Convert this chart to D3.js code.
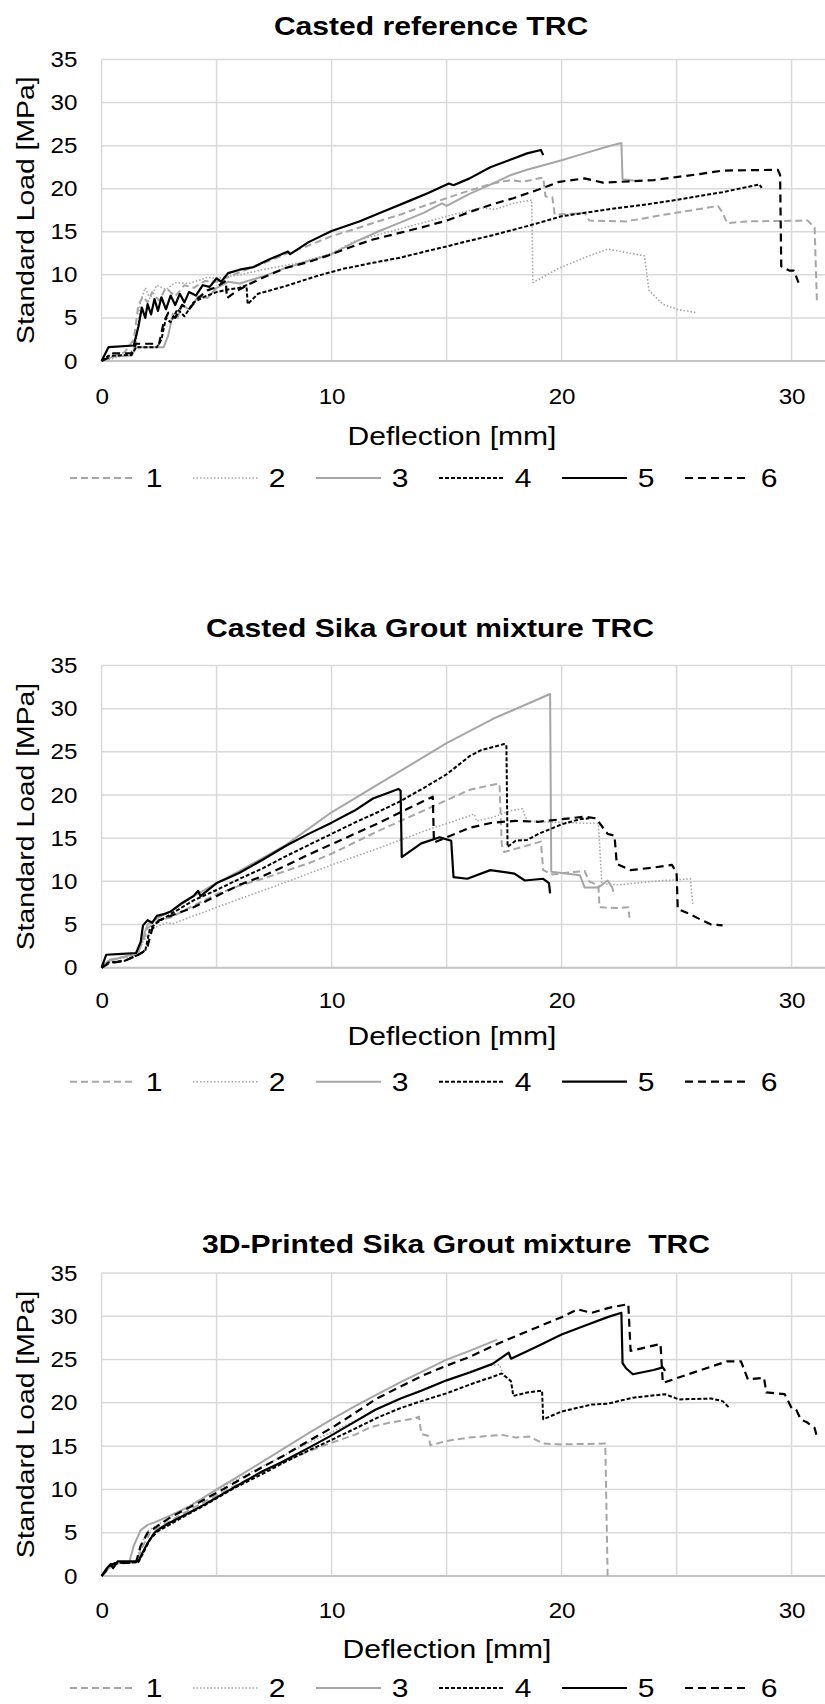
<!DOCTYPE html>
<html>
<head>
<meta charset="utf-8">
<script src="https://cdn.jsdelivr.net/npm/d3@7"></script>
<style>
  body { margin: 0; background: #fff; }
  text { font-family: "Liberation Sans", Arial, sans-serif; fill: #000; white-space: pre; }
</style>
</head>
<body>
<script>
// chart titles, legend names and tick labels
var titles = ["Casted reference TRC", "Casted Sika Grout mixture TRC", "3D-Printed Sika Grout mixture  TRC"];
var seriesNames = ["1", "2", "3", "4", "5", "6"];
var xTickLabels = [0, 10, 20, 30];
var yTickLabels = [0, 5, 10, 15, 20, 25, 30, 35];
var gridX = [0, 5, 10, 15, 20, 25, 30, 35];
var gridY = [5, 10, 15, 20, 25, 30, 35];

// Casted reference TRC : [deflection mm, load MPa]
var ref1 = [[0,0],[0.5,0.5],[1.0,1.0],[1.4,2.5],[1.6,6.5],[1.8,7.5],[2.0,6.8],[2.2,8],[2.5,7],[2.8,8.5],[3.2,7.5],[3.6,8.8],[4.0,8.5],[4.5,9.3],[5.0,9.2],[6.0,10.3],[7.0,11.3],[8.0,12.4],[9.0,13.4],[10.0,14.5],[11.0,15.3],[12.0,16.2],[13.0,17.0],[14.0,18.0],[15.0,18.9],[16.0,19.8],[17.0,20.6],[17.8,21.0],[18.3,20.8],[19.2,21.3],[19.3,19.1],[19.6,19.0],[19.7,17.0],[20.5,17.1],[21.0,17.2],[21.2,16.3],[22.8,16.2],[24.5,17.0],[26.8,18.0],[27.0,17.2],[27.2,16.0],[28.0,16.2],[30.7,16.3],[31.0,15.5],[31.1,7.0]];
var ref2 = [[0,0],[0.5,0.3],[1.2,0.8],[1.5,2],[1.7,7],[1.9,8.5],[2.1,7.2],[2.4,8.8],[2.8,8.3],[3.2,9.1],[3.8,9.0],[4.6,9.7],[5.0,9.6],[6.0,10.0],[7.0,10.6],[8.6,11.4],[10,12.5],[11,13.9],[12.5,15.0],[13.9,16.0],[15,16.8],[16.5,17.8],[17.1,17.6],[17.9,18.3],[18.7,18.7],[18.75,9.1],[19.9,10.8],[21,12.0],[22,13.0],[23.6,12.2],[23.8,8.2],[24.4,6.6],[25,6.0],[25.9,5.6]];
var ref3 = [[0,0],[0.3,0.3],[0.6,0.6],[1.3,0.6],[1.5,1.6],[2.7,1.6],[2.9,3],[3.1,5.5],[3.3,5],[3.5,6.5],[3.8,6],[4.2,7.5],[4.6,7.3],[5.0,8.5],[5.5,9.2],[6.0,9.0],[7.0,9.8],[8,10.8],[9,11.6],[10,12.4],[11,13.8],[12,15],[13,16.1],[14,17.2],[14.8,18.3],[15.0,18.0],[16,19.4],[17,20.6],[17.8,21.6],[18.5,22.2],[20,23.3],[21,24.1],[22,24.9],[22.6,25.3],[22.65,21.1],[23.3,20.9]];
var ref4 = [[0,0],[0.3,0.6],[1.3,0.7],[1.5,1.6],[2.4,1.6],[2.6,2.5],[2.8,5],[3.0,4.5],[3.3,6],[3.6,5.2],[4.0,6.8],[4.5,7.5],[5.0,8.0],[5.5,8.3],[6.0,8.5],[6.3,8.8],[6.35,6.6],[6.8,7.8],[8,8.7],[9.4,9.9],[10.5,10.7],[11.8,11.4],[13,12],[13.9,12.6],[15,13.3],[15.9,13.9],[17,14.6],[18.7,15.8],[20,16.8],[22,17.6],[23.5,18.1],[25,18.7],[27,19.6],[28.6,20.5],[28.7,20.1]];
var ref5 = [[0,0],[0.3,1.6],[1.4,1.8],[1.6,4],[1.75,6.2],[1.9,5.0],[2.0,6.6],[2.15,5.4],[2.3,7.2],[2.45,5.8],[2.6,7.4],[2.8,6.0],[3.0,7.6],[3.2,6.5],[3.4,7.8],[3.6,6.8],[3.8,8.0],[4.1,7.6],[4.4,8.8],[4.7,8.6],[5.0,9.6],[5.2,9.2],[5.5,10.2],[6.0,10.6],[6.6,10.9],[7.3,11.8],[8.1,12.7],[8.2,12.4],[9,13.8],[10,15.1],[11.2,16.2],[12.2,17.3],[13.3,18.5],[14.2,19.5],[15.1,20.6],[15.3,20.4],[16,21.2],[16.9,22.5],[17.8,23.4],[18.5,24.1],[19.1,24.5],[19.2,23.9]];
var ref6 = [[0,0],[0.3,0.4],[0.5,0.9],[1.3,0.9],[1.5,2.0],[2.5,2.0],[2.7,4.5],[2.9,5.6],[3.2,5.0],[3.5,6.5],[3.8,6.0],[4.2,7.3],[4.6,8.2],[5.0,8.6],[5.4,9.3],[5.45,7.3],[5.8,8.0],[6.4,8.9],[7.2,9.9],[8.0,10.8],[9.0,11.5],[9.8,12.2],[11,13.4],[11.8,14.1],[13,14.9],[13.9,15.5],[15,16.3],[15.9,17.2],[17,18.2],[17.9,18.9],[19,19.9],[19.9,20.8],[21,21.2],[21.8,20.7],[24,21.0],[26,21.7],[27,22.1],[29.4,22.2],[29.5,21.6],[29.55,11.0],[29.9,10.5],[30.1,10.5],[30.3,9.1]];

// Casted Sika Grout mixture TRC
var sika1 = [[0,0],[0.3,0.9],[1.5,1.5],[1.8,3],[2.0,4.6],[2.5,5.5],[3,5.8],[4,7.2],[5,8.5],[6,9.5],[7,10.3],[8,11.2],[9,12.1],[10,13.2],[11,14.5],[12,15.8],[13,17.0],[14,18.2],[15,19.4],[16,20.6],[17,21.2],[17.3,21.3],[17.4,14.2],[17.5,13.4],[19.1,14.6],[19.2,11.3],[19.6,10.8],[20.2,11.0],[21.0,11.2],[21.2,10.0],[21.6,9.5],[21.65,7.0],[22.4,6.9],[22.9,7.0],[22.95,5.8]];
var sika2 = [[0,0],[0.3,0.8],[1.5,1.4],[1.8,3],[2.2,4.5],[2.8,5.2],[3.1,5.1],[5,7.0],[8,9.9],[10,11.9],[12,13.8],[14,15.8],[16,17.6],[16.2,17.8],[16.3,17.0],[17,17.4],[17.8,18.2],[18.3,18.4],[18.5,17.0],[19,16.9],[21.6,16.7],[21.75,9.7],[22.5,9.6],[24,10.0],[25.6,10.3],[25.7,7.4]];
var sika3 = [[0,0],[0.3,0.8],[0.6,1.0],[1.6,1.7],[1.8,3.5],[2.0,5.0],[2.3,5.5],[2.6,6],[3,6.5],[4,8.3],[5,9.8],[6,11.2],[7,12.7],[8,14.2],[10,18.0],[12,21.2],[15,26.0],[17,28.8],[19.5,31.7],[19.55,11.1],[20.8,10.7],[21.0,9.3],[21.6,9.3],[22.0,10.1],[22.2,9.3],[22.25,8.8]];
var sika4 = [[0,0],[0.3,0.6],[1.0,0.8],[1.6,1.5],[1.9,2.0],[2.1,4.5],[2.4,5.2],[3,6.2],[4,7.8],[5,9.0],[6,10.3],[7,11.5],[8,12.9],[9,14.2],[10,15.5],[11,16.8],[12,18.0],[13,19.3],[14,20.8],[15,22.4],[16,24.5],[16.5,25.2],[17.5,25.9],[17.6,25.8],[17.65,14.0],[18,14.7],[18.5,14.8],[19,15.5],[20,16.6],[20.8,17.2],[21.2,17.3]];
var sika5 = [[0,0],[0.2,1.5],[0.9,1.6],[1.5,1.7],[1.7,3],[1.8,4.9],[2.0,5.5],[2.2,5.2],[2.4,6.0],[2.7,6.2],[3.0,6.5],[3.5,7.5],[4.0,8.3],[4.2,8.9],[4.3,8.3],[5,9.8],[5.5,10.4],[6,11],[7,12.5],[8,14.1],[9,15.5],[10,16.8],[11,18.2],[11.8,19.6],[12.5,20.3],[12.9,20.7],[13.0,20.5],[13.05,12.8],[13.9,14.4],[14.7,15.1],[15.2,14.7],[15.3,10.5],[15.9,10.3],[16.9,11.3],[17.95,10.9],[18.4,10.1],[19.2,10.3],[19.45,9.8],[19.5,8.6]];
var sika6 = [[0,0],[0.3,0.5],[1.0,0.8],[1.6,1.5],[1.8,1.8],[2.0,2.5],[2.2,4.5],[2.5,5.5],[3,6.0],[4,7.0],[5,8.3],[6,9.6],[7,10.6],[8,11.8],[9,13.1],[10,14.3],[11,15.5],[12,16.7],[13,18.0],[14,19.3],[14.4,19.8],[14.45,14.5],[15,15.1],[16,16.2],[17,16.8],[18,17.0],[19,16.9],[20,17.2],[21,17.5],[21.5,17.3],[22,15.5],[22.3,15.3],[22.4,12.0],[23,11.3],[24,11.6],[24.8,11.9],[25.0,11.0],[25.05,6.8],[25.5,6.3],[26.1,5.5],[26.5,5.0],[27,4.9]];

// 3D-Printed Sika Grout mixture TRC
var print1 = [[0,0],[0.2,0.6],[0.5,1.3],[0.8,1.5],[1.5,1.6],[1.8,3.5],[2.1,5.0],[2.5,5.6],[3,6.4],[4,7.9],[5,9.3],[6,10.7],[7,12.0],[8,13.3],[9,14.4],[10,15.4],[11,16.3],[11.7,17.2],[12.5,17.7],[13.6,18.2],[13.8,18.4],[13.9,16.4],[14.2,16.2],[14.3,15.1],[15,15.6],[16,16.0],[17.4,16.3],[18.0,16.0],[18.6,16.1],[19.2,15.3],[20,15.2],[21.9,15.3],[22.0,0]];
var print2 = [[0,0],[0.2,0.7],[0.5,1.4],[1.5,1.6],[1.7,3.5],[2.0,5.2],[2.5,6.0],[3,6.8],[4,8.4],[5,9.9],[6,11.3],[7,12.7],[8,14.0],[9,15.4],[10,16.6],[11,17.9],[12,19.3],[13,20.5],[14,21.6],[15,22.6],[16,23.6],[16.8,24.3],[17.3,24.4],[17.5,23.0]];
var print3 = [[0,0],[0.2,0.6],[0.5,1.4],[1.2,1.6],[1.4,3.5],[1.7,5.3],[2.0,5.9],[2.3,6.2],[3,7.0],[3.8,8.0],[5,10.0],[6,11.6],[7,13.2],[8,14.85],[9,16.5],[10,18.1],[11,19.6],[12,21.0],[13,22.4],[14,23.7],[15,25.0],[16,26.0],[17.2,27.3]];
var print4 = [[0,0],[0.2,0.7],[0.4,1.3],[0.6,1.5],[1.6,1.6],[1.8,2.6],[2.1,4.2],[2.4,5.1],[3,6.0],[3.8,7.2],[4.5,8.2],[5.8,10.2],[7,11.8],[8,13.2],[9,14.5],[9.9,15.6],[11,17.0],[12,18.3],[13,19.4],[13.9,20.2],[15,21.1],[16.2,22.3],[17,23.0],[17.4,23.4],[17.8,22.5],[17.9,20.8],[18.5,21.2],[19.15,21.4],[19.2,18.1],[20,19.0],[21.3,19.8],[22,19.9],[23.1,20.6],[24.5,21.0],[25.1,20.4],[26.5,20.5],[27,20.2],[27.3,19.4]];
var print5 = [[0,0],[0.2,0.8],[0.4,1.4],[0.5,0.9],[0.7,1.7],[1.6,1.7],[1.8,2.8],[2.0,3.8],[2.3,5.0],[2.6,5.6],[3,6.2],[3.8,7.3],[4.5,8.3],[5.8,10.3],[7,12.1],[7.8,13.1],[9,14.8],[9.9,16.1],[11,17.8],[11.9,19.2],[13,20.5],[13.9,21.4],[15,22.6],[16,23.5],[17,24.5],[17.7,25.8],[17.8,25.1],[19,26.6],[20,27.9],[21,28.9],[22,29.9],[22.6,30.4],[22.65,24.6],[22.8,24.0],[23.1,23.3],[24,23.8],[24.4,24.1],[24.5,23.7]];
var print6 = [[0,0],[0.2,0.6],[0.5,1.4],[1.5,1.6],[1.7,3.5],[2.0,5.0],[2.5,5.9],[3,6.8],[3.8,7.9],[5,9.6],[6,11.1],[7,12.6],[7.85,13.8],[9,15.6],[10,17.1],[11,18.8],[11.9,20.4],[13,21.9],[14,23.2],[15,24.3],[16,25.3],[17.2,26.8],[18,27.7],[19,28.8],[20,29.9],[20.7,30.8],[21.3,30.4],[22.1,31.0],[22.9,31.4],[23.0,26.0],[24.3,26.8],[24.4,22.3],[25.5,23.3],[27.2,24.8],[27.8,24.8],[28.1,22.7],[28.8,22.9],[28.9,21.2],[29.7,21.0],[30.0,19.4],[30.2,19.2],[30.4,18.1],[30.7,17.7],[31.0,17.1],[31.1,16.1]];

var chartSeries = [
  [ref1, ref2, ref3, ref4, ref5, ref6],
  [sika1, sika2, sika3, sika4, sika5, sika6],
  [print1, print2, print3, print4, print5, print6]
];

var styles = [
  { color: "#a6a6a6", width: 2,   dash: "7,4" },
  { color: "#a6a6a6", width: 1.6, dash: "1.5,2" },
  { color: "#a6a6a6", width: 2,   dash: null },
  { color: "#000",    width: 2,   dash: "4,2" },
  { color: "#000",    width: 2.2, dash: null },
  { color: "#000",    width: 2.2, dash: "8,5" }
];

var svgWidth = 825;
var svgHeight = 1704;
var stretch = 1.18;   // the reference text is a bit wide

// plot top (35) / bottom (0) and text offsets per chart
var layout = [
  { top: 59.5,  bottom: 361,   titleX: 431, titleY: 35,   tickY: 42.5, axisX: 452, axisY: 84,   legY: 117 },
  { top: 665.5, bottom: 967.7, titleX: 430, titleY: 637,  tickY: 40.5, axisX: 452, axisY: 77.5, legY: 114 },
  { top: 1273,  bottom: 1576,  titleX: 456, titleY: 1253, tickY: 42,   axisX: 447, axisY: 82,   legY: 112 }
];

var svg = d3.select("body")
  .append("svg")
  .attr("width", svgWidth)
  .attr("height", svgHeight);

var xScale = d3.scaleLinear().domain([0, 35]).range([101.6, 101.6 + 35 * 23]);

function wideText(parent, x, y, str, size, weight) {
  return parent.append("text")
    .attr("transform", `translate(${x},${y}) scale(${stretch},1)`)
    .attr("text-anchor", "middle")
    .style("font-size", size + "px")
    .style("font-weight", weight || "normal")
    .text(str);
}

layout.forEach(function(L, ci) {
  var g = svg.append("g");
  var yScale = d3.scaleLinear().domain([0, 35]).range([L.bottom, L.top]);

  // grid
  g.selectAll(".vgrid")
    .data(gridX)
    .enter()
    .append("line")
    .attr("x1", d => xScale(d)).attr("x2", d => xScale(d))
    .attr("y1", L.top).attr("y2", L.bottom)
    .attr("stroke", "#d9d9d9")
    .attr("stroke-width", 1.5);

  g.selectAll(".hgrid")
    .data(gridY)
    .enter()
    .append("line")
    .attr("x1", xScale(0)).attr("x2", svgWidth)
    .attr("y1", d => yScale(d)).attr("y2", d => yScale(d))
    .attr("stroke", "#d9d9d9")
    .attr("stroke-width", 1.5);

  g.append("line")
    .attr("x1", xScale(0)).attr("x2", svgWidth)
    .attr("y1", yScale(0)).attr("y2", yScale(0))
    .attr("stroke", "#c4c4c4")
    .attr("stroke-width", 2);

  // axes (labels only)
  var xAxis = g.append("g")
    .attr("transform", `translate(0, ${yScale(0)})`)
    .call(d3.axisBottom(xScale).tickValues(xTickLabels).tickSize(0).tickPadding(L.tickY - 15.6));
  var yAxis = g.append("g")
    .attr("transform", `translate(${xScale(0)}, 0)`)
    .call(d3.axisLeft(yScale).tickValues(yTickLabels).tickSize(0).tickPadding(22));
  [xAxis, yAxis].forEach(function(ax) {
    ax.select(".domain").remove();
    ax.selectAll("text")
      .attr("fill", "#000")
      .attr("transform", "scale(1.1,1)")
      .style("font-size", "22px")
      .style("font-family", "'Liberation Sans', Arial, sans-serif");
  });

  // series
  var line = d3.line().x(d => xScale(d[0])).y(d => yScale(d[1]));
  chartSeries[ci].forEach(function(data, si) {
    var st = styles[si];
    g.append("path")
      .datum(data)
      .attr("d", line)
      .attr("fill", "none")
      .attr("stroke", st.color)
      .attr("stroke-width", st.width)
      .attr("stroke-dasharray", st.dash)
      .attr("stroke-linejoin", "round");
  });

  // titles
  wideText(g, L.titleX, L.titleY, titles[ci], 25.5, "bold");
  wideText(g, L.axisX, L.bottom + L.axisY, "Deflection [mm]", 25.5);

  g.append("text")
    .attr("transform", `translate(33.5, ${(L.top + L.bottom) / 2}) rotate(-90) scale(${stretch},1)`)
    .attr("text-anchor", "middle")
    .style("font-size", "24px")
    .text("Standard Load [MPa]");

  // legend
  var legY = L.bottom + L.legY;
  seriesNames.forEach(function(name, si) {
    var st = styles[si];
    var lx = 70 + si * 123;
    g.append("line")
      .attr("x1", lx).attr("x2", lx + 65)
      .attr("y1", legY).attr("y2", legY)
      .attr("stroke", st.color)
      .attr("stroke-width", st.width)
      .attr("stroke-dasharray", st.dash);
    wideText(g, lx + 84, legY + 9, name, 25.5);
  });
});
</script>
</body>
</html>
